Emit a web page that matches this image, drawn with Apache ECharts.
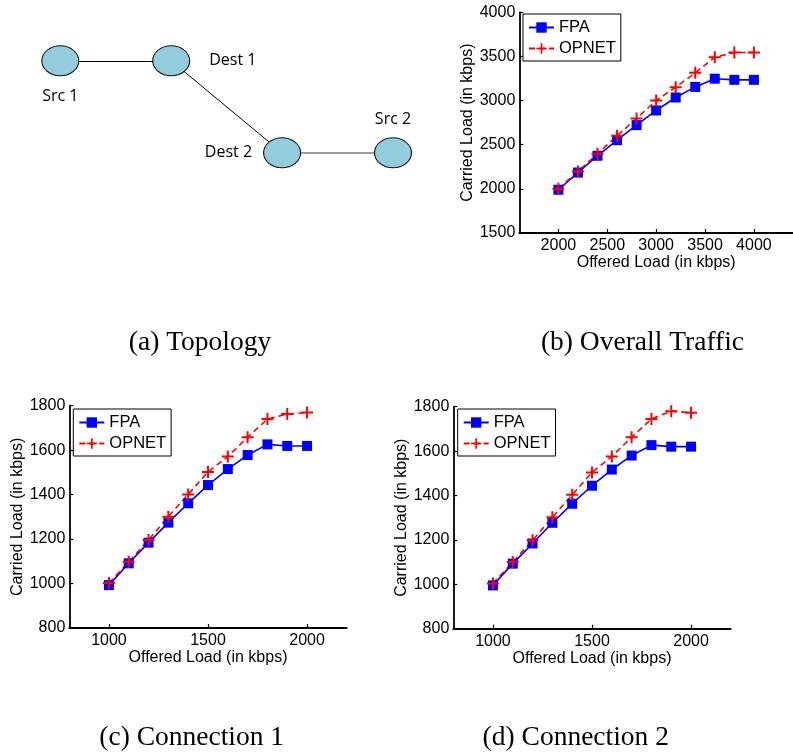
<!DOCTYPE html>
<html>
<head>
<meta charset="utf-8">
<script src="https://cdn.jsdelivr.net/npm/echarts@6/dist/echarts.min.js"></script>
<style>html,body{margin:0;padding:0;background:#fff}#c{width:793px;height:755px}</style>
</head>
<body>
<div id="c"></div>
<script>
// ---------- data ----------
const topoNodes = ['Src 1', 'Dest 1', 'Dest 2', 'Src 2'];
const topoCol = [0, 1, 2, 3];
const topoRow = [0, 0, 1, 1];
const topoLinks = [[0, 1], [1, 2], [2, 3]];

const xOverall = [2000, 2200, 2400, 2600, 2800, 3000, 3200, 3400, 3600, 3800, 4000];
const fpaOverall = [1990, 2185, 2375, 2552, 2722, 2888, 3035, 3155, 3248, 3235, 3235];
const opnetOverall = [2000, 2198, 2397, 2601, 2797, 3001, 3152, 3314, 3491, 3544, 3544];

const xConn = [1000, 1100, 1200, 1300, 1400, 1500, 1600, 1700, 1800, 1900, 2000];
const fpaConn1 = [993, 1091, 1184, 1274, 1361, 1443, 1515, 1578, 1626, 1619, 1619];
const opnetConn1 = [1002, 1098, 1196, 1301, 1401, 1502, 1571, 1658, 1740, 1763, 1769];
const fpaConn2 = [995, 1093, 1184, 1277, 1363, 1444, 1517, 1580, 1627, 1620, 1620];
const opnetConn2 = [1004, 1100, 1198, 1302, 1403, 1504, 1576, 1662, 1745, 1780, 1773];

const xTicksOverall = [2000, 2500, 3000, 3500, 4000];
const xTicksConn = [1000, 1500, 2000];

const captions = ['(a) Topology', '(b) Overall Traffic', '(c) Connection 1', '(d) Connection 2'];
const seriesNames = ['FPA', 'OPNET'];
const xName = 'Offered Load (in kbps)';
const yName = 'Carried Load (in kbps)';

// ---------- styles ----------
const SANS = '"Liberation Sans", Arial, sans-serif';
const SERIF = '"Liberation Serif", "Times New Roman", serif';
const PLUS = 'path://M0,5h12v2h-12z M5,0h2v12h-2z';
const zip = (xs, ys) => xs.map((x, i) => [x, ys[i]]);
const plain = v => String(v);

function xAxisCfg(idx, min, max, ticks, gap) {
  return {
    gridIndex: idx, type: 'value', min: min, max: max,
    name: xName, nameLocation: 'middle', nameGap: gap,
    nameTextStyle: { color: '#000', fontSize: 16, fontFamily: SANS },
    axisLine: { onZero: false, lineStyle: { color: '#000', width: 1.8 } },
    axisTick: { inside: true, length: 4, customValues: ticks, lineStyle: { color: '#000', width: 1.2 } },
    axisLabel: { customValues: ticks, formatter: plain, margin: 5, color: '#000', fontSize: 16, fontFamily: SANS },
    splitLine: { show: false }
  };
}
function yAxisCfg(idx, min, max, interval) {
  return {
    gridIndex: idx, type: 'value', min: min, max: max, interval: interval,
    name: yName, nameLocation: 'middle', nameGap: 41,
    nameTextStyle: { color: '#000', fontSize: 16, fontFamily: SANS },
    axisLine: { show: true, onZero: false, lineStyle: { color: '#000', width: 1.8 } },
    axisTick: { show: true, inside: true, length: 4, lineStyle: { color: '#000', width: 1.2 } },
    axisLabel: { formatter: plain, margin: 4, color: '#000', fontSize: 16, fontFamily: SANS },
    splitLine: { show: false }
  };
}
function fpaSeries(idx, xs, ys) {
  return {
    name: seriesNames[0], type: 'line', xAxisIndex: idx, yAxisIndex: idx,
    data: zip(xs, ys), symbol: 'rect', symbolSize: 10, showAllSymbol: true,
    itemStyle: { color: '#0000ff' }, lineStyle: { color: '#0000ff', width: 1.6 },
    emphasis: { disabled: true }, animation: false
  };
}
function opnetSeries(idx, xs, ys) {
  return {
    name: seriesNames[1], type: 'line', xAxisIndex: idx, yAxisIndex: idx,
    data: zip(xs, ys), symbol: PLUS, symbolSize: 12, showAllSymbol: true,
    itemStyle: { color: '#ff0000' }, lineStyle: { color: '#ff0000', width: 1.6, type: [6, 4] },
    emphasis: { disabled: true }, animation: false
  };
}
function legendCfg(left, top) {
  return {
    left: left, top: top, orient: 'vertical',
    data: seriesNames,
    itemWidth: 25, itemHeight: 13, itemGap: 4,
    padding: [5, 5, 4, 5],
    borderColor: '#000', borderWidth: 1, backgroundColor: '#fff',
    textStyle: { color: '#000', fontSize: 16.5, fontFamily: SANS },
    selectedMode: false
  };
}

const chart = echarts.init(document.getElementById('c'), null, { renderer: 'canvas' });

const option = {
  animation: false,
  backgroundColor: '#fff',
  grid: [
    { left: 60.3, top: 60.8, width: 332.7, height: 92 },      // topology
    { left: 519.3, top: 12.3, width: 277, height: 220.7 },    // (b)
    { left: 69.3, top: 405.7, width: 277.4, height: 222.3 },  // (c)
    { left: 453.3, top: 406.7, width: 277.4, height: 222 }    // (d)
  ],
  xAxis: [
    { gridIndex: 0, type: 'value', min: 0, max: 3, show: false },
    xAxisCfg(1, 1600, 4400, xTicksOverall, 19.5),
    xAxisCfg(2, 800, 2200, xTicksConn, 21.5),
    xAxisCfg(3, 800, 2200, xTicksConn, 21)
  ],
  yAxis: [
    { gridIndex: 0, type: 'value', min: 0, max: 1, inverse: true, show: false },
    yAxisCfg(1, 1500, 4000, 500),
    yAxisCfg(2, 800, 1800, 200),
    yAxisCfg(3, 800, 1800, 200)
  ],
  legend: [
    legendCfg(523, 14),
    legendCfg(73.3, 409),
    legendCfg(457.7, 409)
  ],
  series: [
    {
      type: 'graph', coordinateSystem: 'cartesian2d', xAxisIndex: 0, yAxisIndex: 0,
      symbol: 'circle', symbolSize: [37, 30],
      itemStyle: { color: '#93cddd', borderColor: '#111', borderWidth: 1 },
      label: { show: true, color: '#000', fontSize: 16, fontFamily: '"Open Sans", "Noto Sans", sans-serif' },
      data: topoNodes.map((n, i) => ({
        name: n, value: [topoCol[i], topoRow[i]],
        label: [
          { position: 'bottom', distance: 12 },
          { position: 'right', distance: 19 },
          { position: 'left', distance: 11 },
          { position: 'top', distance: 10 }
        ][i]
      })),
      links: topoLinks.map((l, i) => ({
        source: l[0], target: l[1],
        lineStyle: i === 2 ? { color: '#7a7a7a', width: 1.6 } : { color: '#000', width: 1 }
      })),
      lineStyle: { opacity: 1, curveness: 0 },
      emphasis: { disabled: true }, animation: false, silent: true
    },
    fpaSeries(1, xOverall, fpaOverall),
    opnetSeries(1, xOverall, opnetOverall),
    fpaSeries(2, xConn, fpaConn1),
    opnetSeries(2, xConn, opnetConn1),
    fpaSeries(3, xConn, fpaConn2),
    opnetSeries(3, xConn, opnetConn2)
  ],
  graphic: [
    [200, 343], [642.5, 343], [191.7, 738], [575.8, 738]
  ].map((p, i) => ({
    type: 'text', x: p[0], y: p[1],
    style: { text: captions[i], fill: '#000', font: '27.5px ' + SERIF, textAlign: 'center', textVerticalAlign: 'middle' }
  }))
};
chart.setOption(option);
</script>
</body>
</html>
